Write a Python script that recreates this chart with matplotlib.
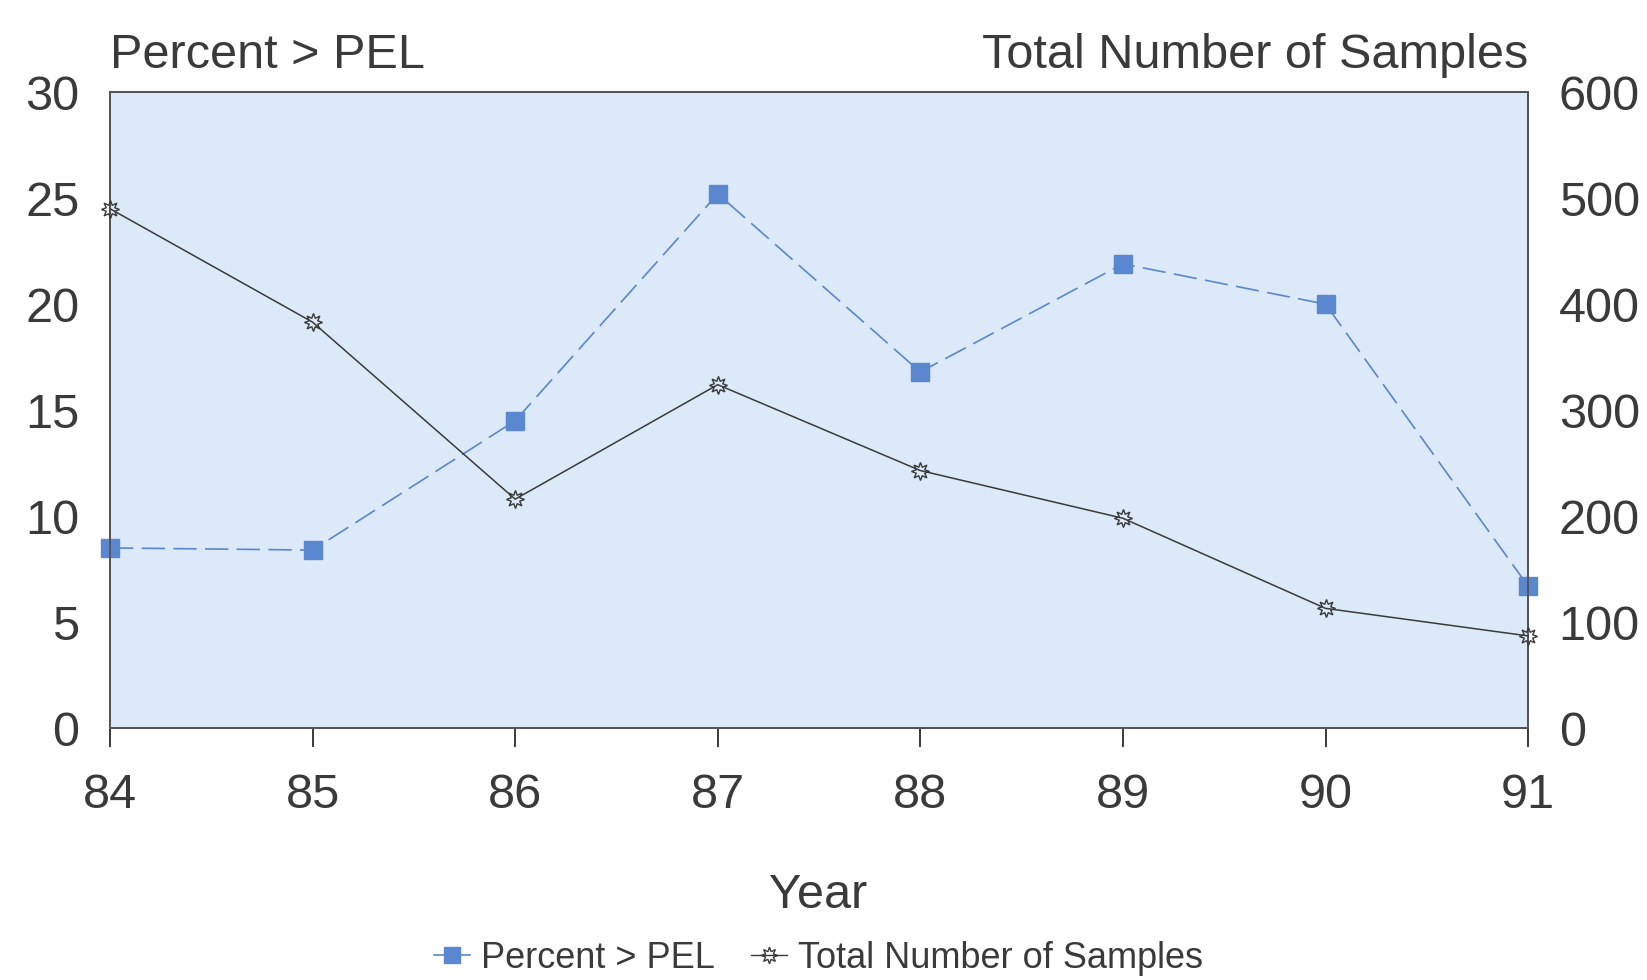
import numpy as np
import matplotlib
matplotlib.use("Agg")
import matplotlib.pyplot as plt
from matplotlib.lines import Line2D

plt.rcParams['font.family'] = ['Liberation Sans', 'DejaVu Sans']

years = [84, 85, 86, 87, 88, 89, 90, 91]
percent_pel = [8.5, 8.4, 14.5, 25.2, 16.8, 21.9, 20.0, 6.7]
total_samples = [490, 383, 216, 324, 243, 198, 113, 87]

blue = '#5a87cf'
dark = '#3a3a3a'

fig = plt.figure(figsize=(16.47, 9.8), dpi=100)
ax = fig.add_axes([0.0668, 0.257, 0.861, 0.649])
ax.set_facecolor('#dce9f8')

ax.plot(years, percent_pel, color=blue, ls=(0, (14, 5)), lw=1.2, marker='s',
        markersize=13, markerfacecolor=blue, markeredgecolor=blue, zorder=3, clip_on=False)
ax.set_xlim(84, 91)
ax.set_ylim(0, 30)
ax.set_yticks(range(0, 31, 5))
ax.set_xticks(years)
ax.tick_params(axis='y', length=0, labelsize=35, pad=22, colors=dark)
ax.tick_params(axis='x', length=14, width=1.4, labelsize=35, pad=18, colors=dark, direction='out')

ax2 = ax.twinx()
ax2.plot(years, total_samples, color=dark, lw=1.1, marker=(8, 1, 0), markersize=13,
         markerfacecolor='none', markeredgecolor=dark, markeredgewidth=1.0, zorder=4, clip_on=False)
ax2.set_ylim(0, 600)
ax2.set_yticks(range(0, 601, 100))
ax2.tick_params(axis='y', length=0, labelsize=35, pad=22, colors=dark)

for a in (ax, ax2):
    for s in a.spines.values():
        s.set_color('#555555')
        s.set_linewidth(1.4)

fig.text(0.0668, 0.931, 'Percent > PEL', fontsize=35, color=dark, ha='left', va='baseline')
fig.text(0.928, 0.931, 'Total Number of Samples', fontsize=35, color=dark, ha='right', va='baseline')
fig.text(0.497, 0.086, 'Year', fontsize=35, color=dark, ha='center', va='center')

handles = [
    Line2D([0], [0], color=blue, marker='s', markersize=12, lw=1.2, label='Percent > PEL'),
    Line2D([0], [0], color=dark, marker=(8, 1, 0), markersize=12, markerfacecolor='none',
           lw=1.0, label='Total Number of Samples'),
]
fig.legend(handles=handles, loc='center', bbox_to_anchor=(0.497, 0.022), ncol=2, frameon=False,
           fontsize=26, handlelength=1.0, handletextpad=0.3, columnspacing=1.0,
           labelcolor=dark)

fig.savefig('out.png', dpi=100, facecolor='white')
